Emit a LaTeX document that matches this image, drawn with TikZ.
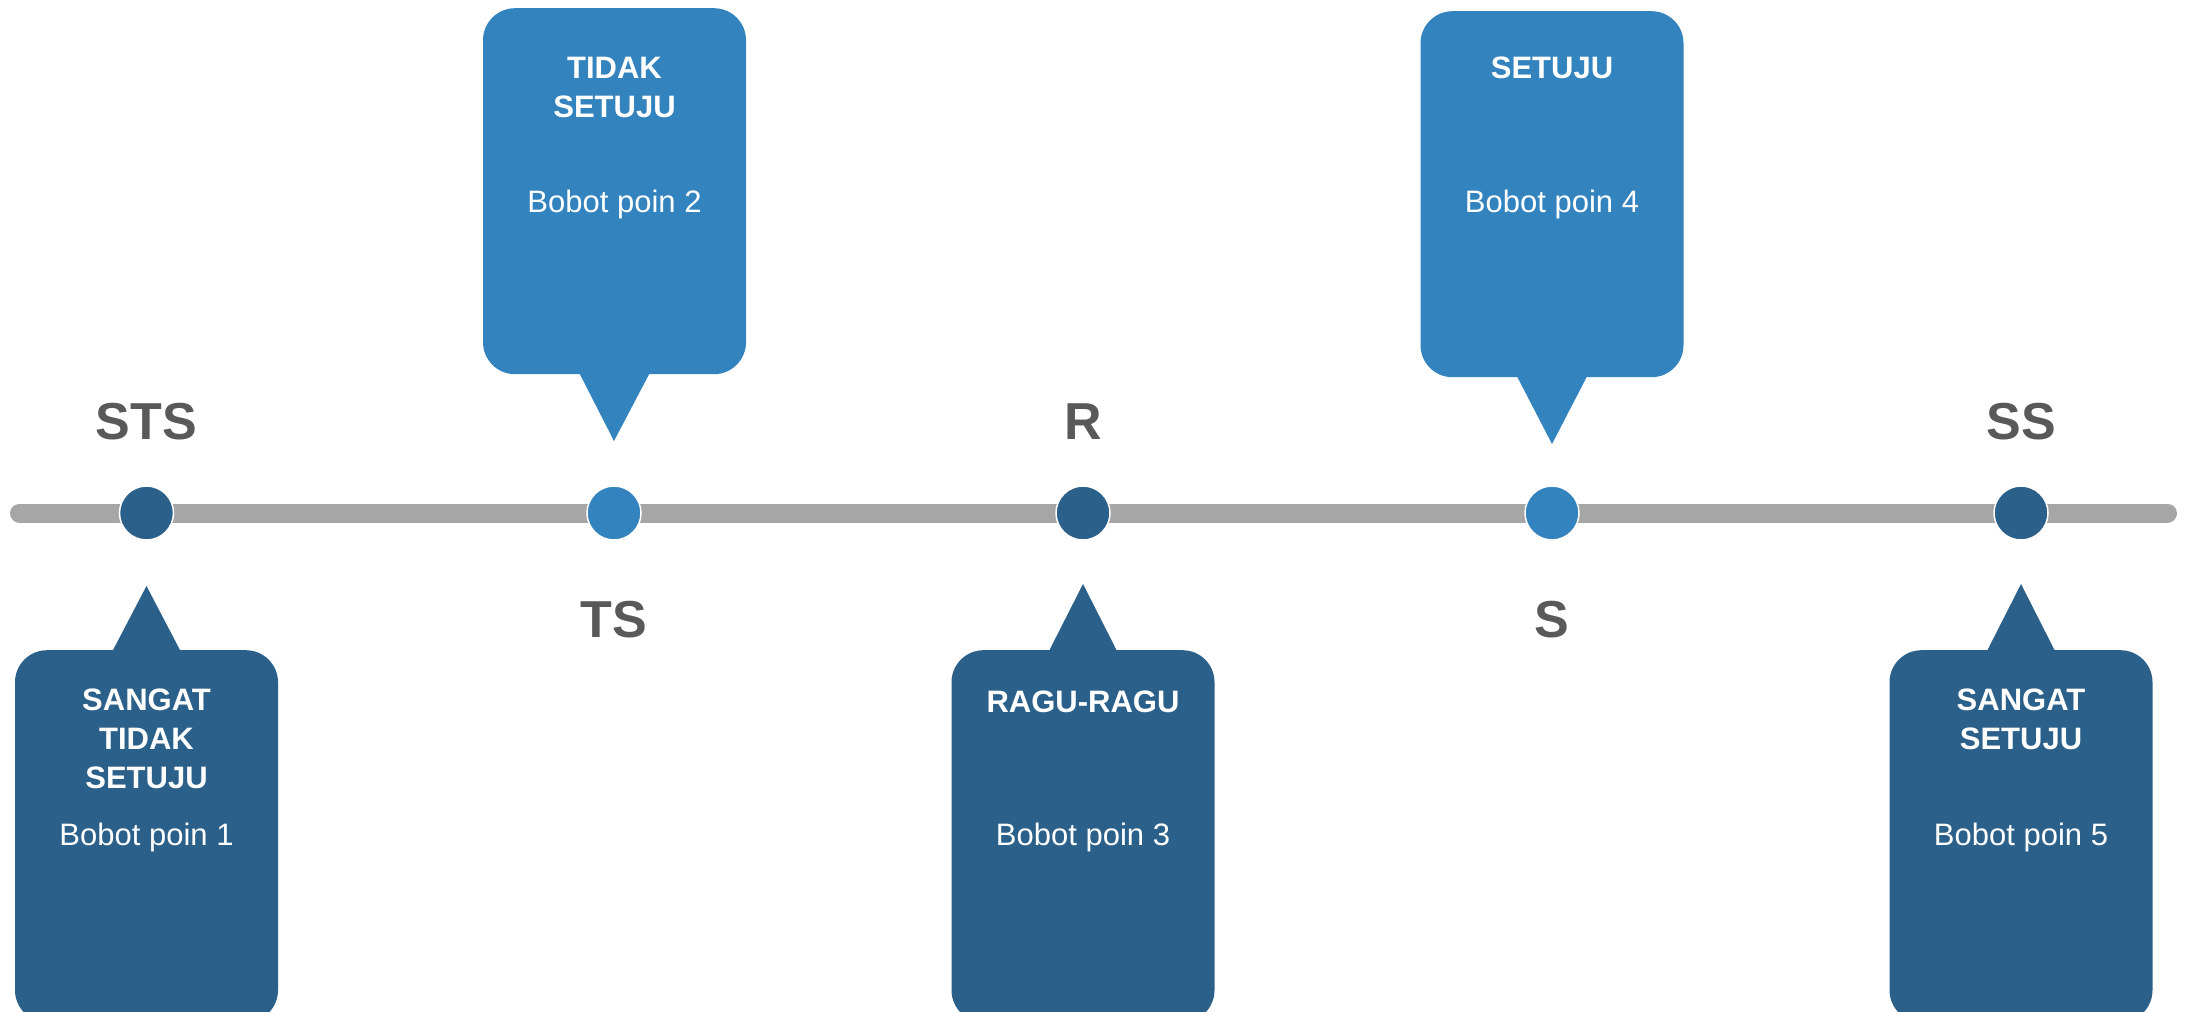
\documentclass[tikz,border=0pt]{standalone}
\usepackage{fontspec}
\setmainfont{Liberation Sans}
\usetikzlibrary{positioning}

\definecolor{darkblue}{HTML}{2A6089}
\definecolor{lightblue}{HTML}{3383BE}
\definecolor{axisgray}{HTML}{A6A6A6}
\definecolor{labelgray}{HTML}{595959}

\begin{document}
\begin{tikzpicture}[x=1pt,y=-1pt,
dot/.style={circle,draw=white,line width=1.5pt,minimum size=54pt,inner sep=0pt},
callout/.style={rectangle,rounded corners=32pt,minimum width=263pt,inner sep=0pt},
title/.style={text=white,align=center,inner sep=0pt,anchor=north,font=\fontsize{31}{39}\selectfont\bfseries},
bobot/.style={text=white,inner sep=0pt,anchor=base,font=\fontsize{31}{38}\selectfont},
scale label/.style={text=labelgray,inner sep=0pt,anchor=base,font=\fontsize{52}{60}\selectfont\bfseries}]

\useasboundingbox (0,0) rectangle (2188,1012);
\clip (0,0) rectangle (2188,1012);

% axis
\coordinate (lineL) at (19.5,513);
\coordinate (lineR) at (2167.5,513);
\draw[axisgray,line width=19pt,line cap=round] (lineL) -- (lineR);

\node[dot,fill=darkblue] (d1) at (146.5,513) {};
\node[dot,fill=lightblue] (d2) at (614,513) {};
\node[dot,fill=darkblue] (d3) at (1083,513) {};
\node[dot,fill=lightblue] (d4) at (1552,513) {};
\node[dot,fill=darkblue] (d5) at (2021,513) {};

\node[scale label] (sts) at (146.5,439.5) {STS};
\node[scale label] (ts) at (614,637.5) {TS};
\node[scale label] (r) at (1083,439) {R};
\node[scale label] (s) at (1552,637.5) {S};
\node[scale label] (ss) at (2021,439.5) {SS};

% callouts below the axis
\node[callout,fill=darkblue,minimum height=372pt,anchor=north] (b1) at (146.5,650) {};
\node[callout,fill=darkblue,minimum height=372pt,anchor=north] (b3) at (1083,650) {};
\node[callout,fill=darkblue,minimum height=372pt,anchor=north] (b5) at (2021,650) {};
\coordinate (p1) at (146.5,586);
\coordinate (p3) at (1083,584);
\coordinate (p5) at (2021,584);
\fill[darkblue] ([xshift=-34pt,yshift=-1pt]b1.north) -- (p1) -- ([xshift=34pt,yshift=-1pt]b1.north) -- cycle;
\fill[darkblue] ([xshift=-34pt,yshift=-1pt]b3.north) -- (p3) -- ([xshift=34pt,yshift=-1pt]b3.north) -- cycle;
\fill[darkblue] ([xshift=-34pt,yshift=-1pt]b5.north) -- (p5) -- ([xshift=34pt,yshift=-1pt]b5.north) -- cycle;

% callouts above the axis
\node[callout,fill=lightblue,minimum height=366pt,anchor=north] (b2) at (614.5,8) {};
\node[callout,fill=lightblue,minimum height=366pt,anchor=north] (b4) at (1552,11) {};
\coordinate (p2) at (614,441);
\coordinate (p4) at (1552,444);
\fill[lightblue] ([xshift=-35pt,yshift=1pt]b2.south) -- (p2) -- ([xshift=35pt,yshift=1pt]b2.south) -- cycle;
\fill[lightblue] ([xshift=-35pt,yshift=1pt]b4.south) -- (p4) -- ([xshift=35pt,yshift=1pt]b4.south) -- cycle;

\node[title] (t1) at (146.5,689) {SANGAT\\TIDAK\\SETUJU};
\node[title] (t2) at (614.5,57) {TIDAK\\SETUJU};
\node[title] (t3) at (1083,691) {RAGU-RAGU};
\node[title] (t4) at (1552,57) {SETUJU};
\node[title] (t5) at (2021,689) {SANGAT\\SETUJU};

\node[bobot] (w1) at (146.5,845) {Bobot poin 1};
\node[bobot] (w2) at (614.5,212) {Bobot poin 2};
\node[bobot] (w3) at (1083,845) {Bobot poin 3};
\node[bobot] (w4) at (1552,212) {Bobot poin 4};
\node[bobot] (w5) at (2021,845) {Bobot poin 5};
\end{tikzpicture}
\end{document}
